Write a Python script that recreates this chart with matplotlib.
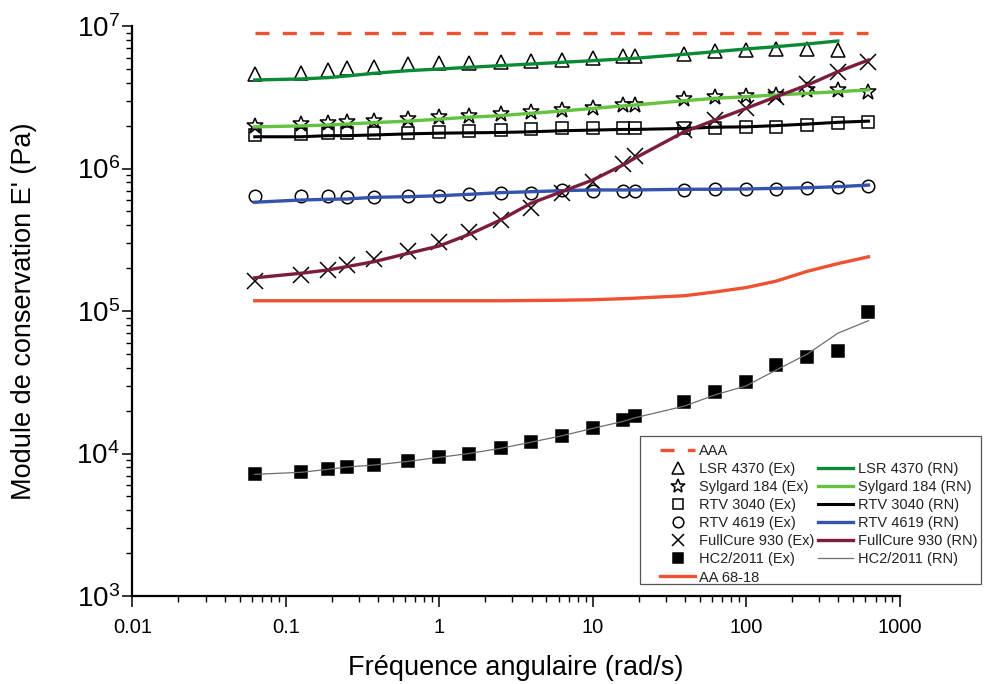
import matplotlib
matplotlib.use("Agg")
import matplotlib.pyplot as plt
from matplotlib.lines import Line2D
from matplotlib.patches import Rectangle
from matplotlib.ticker import FixedLocator, NullFormatter, LogLocator

plt.rcParams['font.family'] = ['Liberation Sans', 'DejaVu Sans']

# ---------------- data ----------------
freq = [0.0628, 0.126, 0.188, 0.251, 0.377, 0.628, 1.0, 1.57, 2.51, 3.96, 6.28,
        10.0, 15.8, 18.8, 39.6, 62.8, 100, 157, 251, 396, 628]
freq_lsr = freq[:20]
freq_aaa = [0.0628, 628]

aaa = [8.9e6, 8.9e6]

lsr_ex = [4.60e6, 4.70e6, 4.91e6, 5.05e6, 5.18e6, 5.41e6, 5.47e6, 5.52e6, 5.62e6, 5.68e6,
          5.77e6, 5.93e6, 6.15e6, 6.15e6, 6.38e6, 6.66e6, 6.79e6, 6.90e6, 6.93e6, 6.79e6]
lsr_rn = [4.18e6, 4.25e6, 4.34e6, 4.46e6, 4.66e6, 4.86e6, 4.99e6, 5.13e6, 5.27e6, 5.41e6,
          5.56e6, 5.71e6, 5.87e6, 5.93e6, 6.33e6, 6.60e6, 6.90e6, 7.16e6, 7.48e6, 7.85e6]

syl_ex = [2.00e6, 2.05e6, 2.09e6, 2.11e6, 2.16e6, 2.22e6, 2.29e6, 2.33e6, 2.40e6, 2.48e6,
          2.57e6, 2.67e6, 2.79e6, 2.79e6, 3.06e6, 3.16e6, 3.25e6, 3.28e6, 3.56e6, 3.56e6, 3.46e6]
syl_rn = [1.96e6, 1.99e6, 2.02e6, 2.05e6, 2.10e6, 2.15e6, 2.22e6, 2.29e6, 2.35e6, 2.44e6,
          2.53e6, 2.64e6, 2.75e6, 2.79e6, 2.99e6, 3.11e6, 3.19e6, 3.28e6, 3.37e6, 3.46e6, 3.56e6]

rtv3040_ex = [1.72e6, 1.75e6, 1.77e6, 1.77e6, 1.78e6, 1.78e6, 1.81e6, 1.83e6, 1.86e6, 1.88e6,
              1.91e6, 1.91e6, 1.91e6, 1.91e6, 1.91e6, 1.93e6, 1.96e6, 1.96e6, 2.02e6, 2.08e6, 2.13e6]
rtv3040_rn = [1.67e6, 1.67e6, 1.70e6, 1.70e6, 1.72e6, 1.75e6, 1.77e6, 1.78e6, 1.79e6, 1.81e6,
              1.84e6, 1.86e6, 1.88e6, 1.88e6, 1.91e6, 1.95e6, 1.96e6, 2.00e6, 2.05e6, 2.11e6, 2.15e6]

rtv4619_ex = [6.41e5, 6.41e5, 6.41e5, 6.34e5, 6.34e5, 6.41e5, 6.44e5, 6.59e5, 6.70e5, 6.77e5,
              7.07e5, 6.99e5, 6.99e5, 6.99e5, 7.07e5, 7.15e5, 7.22e5, 7.22e5, 7.26e5, 7.38e5, 7.57e5]
rtv4619_rn = [5.80e5, 6.01e5, 6.08e5, 6.11e5, 6.28e5, 6.34e5, 6.44e5, 6.59e5, 6.77e5, 6.87e5,
              6.99e5, 7.07e5, 7.07e5, 7.07e5, 7.15e5, 7.15e5, 7.18e5, 7.26e5, 7.33e5, 7.45e5, 7.65e5]

fc_ex = [1.63e5, 1.79e5, 1.94e5, 2.11e5, 2.30e5, 2.64e5, 3.06e5, 3.57e5, 4.38e5, 5.26e5,
         6.70e5, 8.08e5, 1.08e6, 1.23e6, 1.86e6, 2.19e6, 2.64e6, 3.19e6, 3.92e6, 4.78e6, 5.62e6]
fc_rn = [1.71e5, 1.84e5, 1.94e5, 2.05e5, 2.22e5, 2.54e5, 2.86e5, 3.45e5, 4.35e5, 5.70e5,
         6.87e5, 8.30e5, 1.06e6, 1.18e6, 1.81e6, 2.19e6, 2.64e6, 3.19e6, 3.85e6, 4.78e6, 5.77e6]

hc2_ex = [7140, 7380, 7740, 8040, 8300, 8810, 9400, 10000, 10870, 12000,
          13300, 15200, 17100, 18400, 23100, 27000, 31800, 41800, 47300, 52400, 98000]
hc2_rn = [7140, 7380, 7740, 8040, 8300, 8810, 9400, 10000, 10870, 12000,
          13300, 15000, 16800, 17800, 21500, 25800, 29800, 38500, 49900, 69800, 85500]

aa6818 = [1.18e5, 1.18e5, 1.18e5, 1.18e5, 1.18e5, 1.18e5, 1.18e5, 1.18e5, 1.18e5, 1.185e5,
          1.19e5, 1.20e5, 1.22e5, 1.23e5, 1.28e5, 1.36e5, 1.46e5, 1.62e5, 1.90e5, 2.15e5, 2.40e5]

xticks = [0.01, 0.1, 1, 10, 100, 1000]
xtick_labels = ['0.01', '0.1', '1', '10', '100', '1000']

labels_ex = ['LSR 4370 (Ex)', 'Sylgard 184 (Ex)', 'RTV 3040 (Ex)', 'RTV 4619 (Ex)',
             'FullCure 930 (Ex)', 'HC2/2011 (Ex)']
labels_rn = ['LSR 4370 (RN)', 'Sylgard 184 (RN)', 'RTV 3040 (RN)', 'RTV 4619 (RN)',
             'FullCure 930 (RN)', 'HC2/2011 (RN)']

# ---------------- styles ----------------
RED = '#ee5232'
C_LSR = '#0b8a35'
C_SYL = '#63c23f'
C_3040 = '#000000'
C_4619 = '#3553ad'
C_FC = '#7a1d3e'
C_HC2 = '#6e6e6e'

fig = plt.figure(figsize=(9.84, 6.84), dpi=100)
ax = fig.add_axes([132.3 / 984, 1 - 596 / 684, (899.5 - 132.3) / 984, (596 - 26) / 684])

mk = dict(linestyle='none', markeredgecolor='black', markeredgewidth=1.1)

h_aaa, = ax.plot(freq_aaa, aaa, color=RED, lw=2.4, dashes=(4.2, 4.0), zorder=3)

h_lsr_ex, = ax.plot(freq_lsr, lsr_ex, marker='^', ms=10.5, markerfacecolor='none', zorder=2, **mk)
h_syl_ex, = ax.plot(freq, syl_ex, marker='*', ms=12, markerfacecolor='none', zorder=2, **mk)
h_3040_ex, = ax.plot(freq, rtv3040_ex, marker='s', ms=8.5, markerfacecolor='none', zorder=2, **mk)
h_4619_ex, = ax.plot(freq, rtv4619_ex, marker='o', ms=9, markerfacecolor='none', zorder=2, **mk)
h_fc_ex, = ax.plot(freq, fc_ex, marker='x', ms=11, zorder=2, color='black',
                   linestyle='none', markeredgewidth=1.1)
h_hc2_ex, = ax.plot(freq, hc2_ex, marker='s', ms=8.8, markerfacecolor='black', zorder=2, **mk)

h_lsr_rn, = ax.plot(freq_lsr, lsr_rn, color=C_LSR, lw=2.4, zorder=3)
h_syl_rn, = ax.plot(freq, syl_rn, color=C_SYL, lw=2.4, zorder=3)
h_3040_rn, = ax.plot(freq, rtv3040_rn, color=C_3040, lw=2.2, zorder=3)
h_4619_rn, = ax.plot(freq, rtv4619_rn, color=C_4619, lw=2.4, zorder=3)
h_fc_rn, = ax.plot(freq, fc_rn, color=C_FC, lw=2.4, zorder=3)
h_hc2_rn, = ax.plot(freq, hc2_rn, color=C_HC2, lw=0.9, zorder=3)

h_aa, = ax.plot(freq, aa6818, color=RED, lw=2.4, zorder=3)

ax.set_xscale('log')
ax.set_yscale('log')
ax.set_xlim(0.01, 1000)
ax.set_ylim(1e3, 1e7)

ax.xaxis.set_major_locator(FixedLocator(xticks))
ax.set_xticklabels(xtick_labels)
ax.xaxis.set_minor_locator(LogLocator(base=10, subs=range(2, 10), numticks=20))
ax.xaxis.set_minor_formatter(NullFormatter())
ax.yaxis.set_major_locator(LogLocator(base=10, numticks=10))
ax.yaxis.set_minor_locator(LogLocator(base=10, subs=range(2, 10), numticks=20))
ax.yaxis.set_minor_formatter(NullFormatter())

for s in ['top', 'right']:
    ax.spines[s].set_visible(False)
for s in ['left', 'bottom']:
    ax.spines[s].set_linewidth(1.6)

ax.tick_params(axis='x', which='major', direction='out', length=8, width=1.1,
               labelsize=14.5, pad=7.5)
ax.tick_params(axis='x', which='minor', direction='out', length=4.5, width=1.0)
ax.tick_params(axis='y', which='major', direction='out', length=7, width=1.1,
               labelsize=20, pad=2)
ax.tick_params(axis='y', which='minor', direction='out', length=4.5, width=1.0)

ax.set_xlabel('Fréquence angulaire (rad/s)', fontsize=19.5)
ax.set_ylabel("Module de conservation E' (Pa)", fontsize=19.5)
ax.xaxis.set_label_coords(0.5, -0.103)
ax.yaxis.set_label_coords(-0.124, 0.5)

# ---------------- legend ----------------
blank = Line2D([], [], linestyle='none', marker=None)
handles = [h_aaa, h_lsr_ex, h_syl_ex, h_3040_ex, h_4619_ex, h_fc_ex, h_hc2_ex, h_aa,
           blank, h_lsr_rn, h_syl_rn, h_3040_rn, h_4619_rn, h_fc_rn, h_hc2_rn, blank]
labels = ['AAA'] + labels_ex + ['AA 68-18'] + [''] + labels_rn + ['']
leg = ax.legend(handles, labels, ncol=2, loc='upper left',
                bbox_to_anchor=(660 / 984, 1 - 444 / 684), bbox_transform=fig.transFigure,
                frameon=False, fontsize=10.5, borderpad=0, borderaxespad=0,
                labelspacing=0.28, handlelength=2.4, handletextpad=0.3, columnspacing=0.25,
                numpoints=1, markerscale=0.85)
for t in leg.get_texts():
    t.set_color('#222222')

frame = Rectangle((639.5 / 984, 1 - 583.5 / 684), (981 - 639.5) / 984, (583.5 - 436) / 684,
                  transform=fig.transFigure, fill=False, edgecolor='#555555', lw=0.9)
fig.patches.append(frame)

fig.savefig('out.png', dpi=100)
